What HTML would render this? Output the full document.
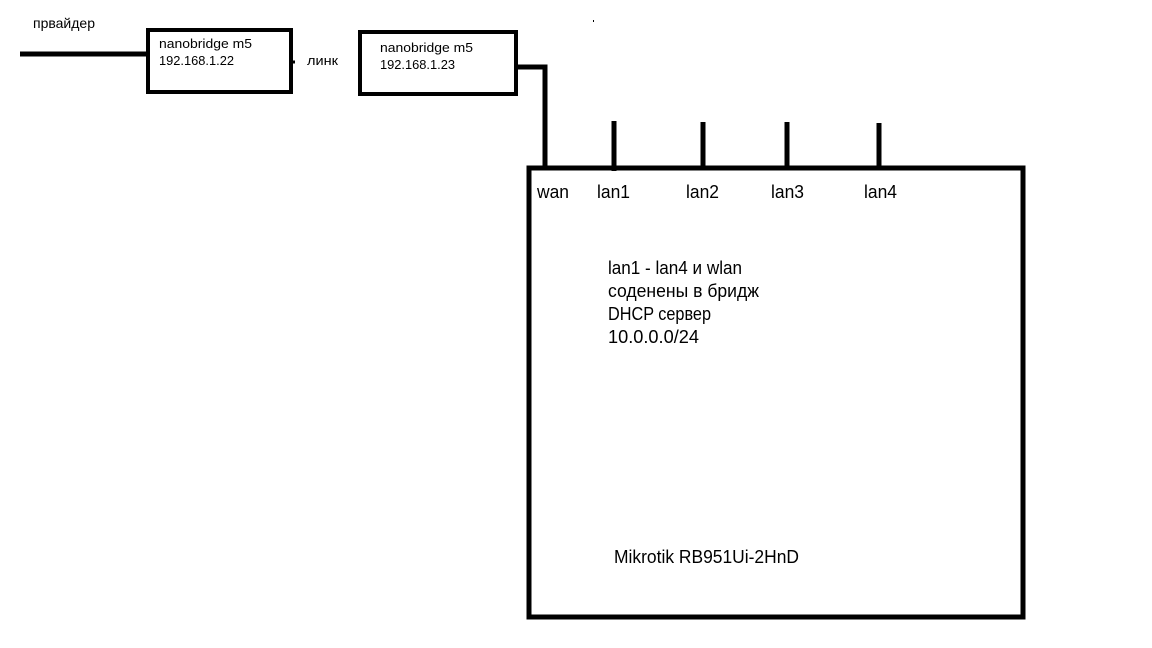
<!DOCTYPE html>
<html><head><meta charset="utf-8"><style>
html,body{margin:0;padding:0;background:#fff;width:1152px;height:648px;overflow:hidden}
svg{display:block}
text{font-family:"Liberation Sans",sans-serif;fill:#000}
</style></head><body>
<svg width="1152" height="648" viewBox="0 0 1152 648">
<g fill="none" stroke="#000" stroke-width="4">
<rect x="148" y="30" width="143" height="62"/>
<rect x="360" y="32" width="156" height="62"/>
<rect x="529" y="168" width="494" height="449" stroke-width="5"/>
<line x1="20" y1="54" x2="146" y2="54" stroke-width="5"/>
<polyline points="518,67 545,67 545,168" stroke-width="5"/>
<line x1="614" y1="121" x2="614" y2="171" stroke-width="5"/>
<line x1="703" y1="122" x2="703" y2="168" stroke-width="5"/>
<line x1="787" y1="122" x2="787" y2="168" stroke-width="5"/>
<line x1="879" y1="123" x2="879" y2="168" stroke-width="5"/>
<line x1="293" y1="62" x2="295" y2="62" stroke-width="3"/>
</g>
<rect x="593" y="20" width="1" height="2" fill="#000"/>
<text x="33" y="28" font-size="14" fill="#002" textLength="62" lengthAdjust="spacingAndGlyphs">првайдер</text>
<text x="159" y="48" font-size="13" textLength="93" lengthAdjust="spacingAndGlyphs">nanobridge m5</text>
<text x="159" y="65" font-size="13" textLength="75" lengthAdjust="spacingAndGlyphs">192.168.1.22</text>
<text x="307" y="65" font-size="13" textLength="31" lengthAdjust="spacingAndGlyphs">линк</text>
<text x="380" y="52" font-size="13" textLength="93" lengthAdjust="spacingAndGlyphs">nanobridge m5</text>
<text x="380" y="69" font-size="13" textLength="75" lengthAdjust="spacingAndGlyphs">192.168.1.23</text>
<g font-size="18">
<text x="537" y="198" textLength="32" lengthAdjust="spacingAndGlyphs">wan</text>
<text x="597" y="198" textLength="33" lengthAdjust="spacingAndGlyphs">lan1</text>
<text x="686" y="198" textLength="33" lengthAdjust="spacingAndGlyphs">lan2</text>
<text x="771" y="198" textLength="33" lengthAdjust="spacingAndGlyphs">lan3</text>
<text x="864" y="198" textLength="33" lengthAdjust="spacingAndGlyphs">lan4</text>
<text x="608" y="274" textLength="134" lengthAdjust="spacingAndGlyphs">lan1 - lan4 и wlan</text>
<text x="608" y="297" textLength="151" lengthAdjust="spacingAndGlyphs">соденены в бридж</text>
<text x="608" y="320" textLength="103" lengthAdjust="spacingAndGlyphs">DHCP сервер</text>
<text x="608" y="343" textLength="91" lengthAdjust="spacingAndGlyphs">10.0.0.0/24</text>
<text x="614" y="563" textLength="185" lengthAdjust="spacingAndGlyphs">Mikrotik RB951Ui-2HnD</text>
</g>
</svg>
</body></html>
